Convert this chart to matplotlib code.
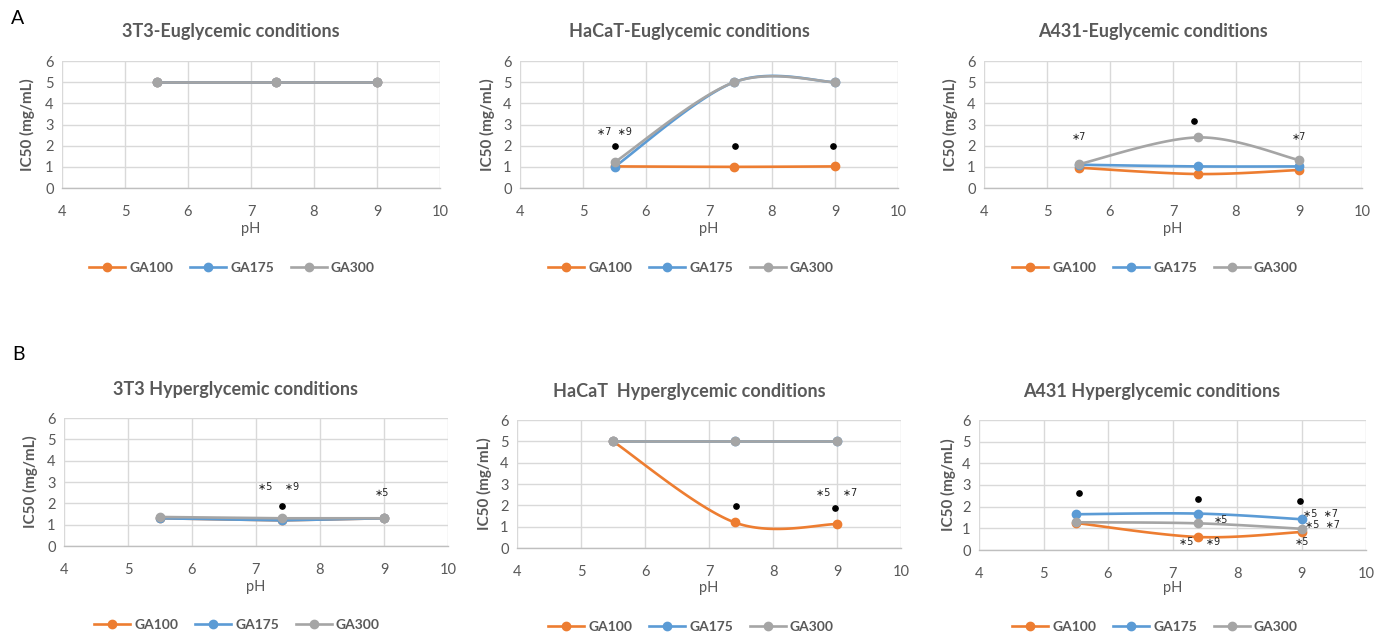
import numpy as np
import matplotlib
matplotlib.use("Agg")
import matplotlib.pyplot as plt
from matplotlib.lines import Line2D

plt.rcParams['font.family'] = ['Lato', 'DejaVu Sans']

W, H = 1386, 635
fig = plt.figure(figsize=(W / 100, H / 100), dpi=100)

ph = [5.5, 7.4, 9.0]
series_names = ["GA100", "GA175", "GA300"]
colors = ["#ED7D31", "#5B9BD5", "#A5A5A5"]

titles = ["3T3-Euglycemic conditions", "HaCaT-Euglycemic conditions", "A431-Euglycemic conditions",
          "3T3 Hyperglycemic conditions", "HaCaT  Hyperglycemic conditions", "A431 Hyperglycemic conditions"]

# IC50 values per panel: GA100, GA175, GA300
eu_3t3 = [[5, 5, 5], [5, 5, 5], [5, 5, 5]]
eu_hacat = [[1.02, 1.0, 1.02], [1.0, 5.0, 5.0], [1.21, 5.0, 5.0]]
eu_a431 = [[0.96, 0.66, 0.85], [1.1, 1.02, 1.02], [1.12, 2.39, 1.32]]
hy_3t3 = [[1.3, 1.2, 1.3], [1.3, 1.2, 1.3], [1.36, 1.3, 1.3]]
hy_hacat = [[5.0, 1.2, 1.12], [5.0, 5.0, 5.0], [5.0, 5.0, 5.0]]
hy_a431 = [[1.25, 0.6, 0.83], [1.65, 1.68, 1.42], [1.28, 1.23, 0.98]]
panel_data = [eu_3t3, eu_hacat, eu_a431, hy_3t3, hy_hacat, hy_a431]
smooth = [False, True, True, False, True, True]

# black significance dots (x, y) per panel
dots = [[], [(5.5, 2.0), (7.42, 2.0), (8.97, 2.0)], [(7.33, 3.16)],
        [(7.4, 1.89)], [(7.42, 1.98), (8.97, 1.89)], [(5.55, 2.65), (7.4, 2.37), (8.97, 2.28)]]
# annotation labels (x, y, text) per panel
notes = [[], [(5.5, 2.66, "∗7  ∗9")], [(5.5, 2.41, "∗7"), (9.0, 2.41, "∗7")],
         [(7.35, 2.75, "∗5    ∗9"), (8.96, 2.48, "∗5")],
         [(9.0, 2.58, "∗5    ∗7")],
         [(9.3, 1.67, "∗5  ∗7"), (9.33, 1.15, "∗5  ∗7"), (7.75, 1.37, "∗5"),
          (7.42, 0.36, "∗5    ∗9"), (9.0, 0.36, "∗5")]]

# pixel boxes: left, right, top, bottom
boxes = [(62, 440, 61, 188), (520, 898, 61, 188), (984, 1362, 61, 188),
         (64, 448, 418, 546), (517, 901, 420, 548), (979, 1366, 420, 550)]
title_pos = [(231, 32), (689, 32), (1153, 32), (235, 389), (689, 392), (1152, 392)]
legend_pos = [(232, 268), (691, 268), (1155, 268), (237, 625), (691, 627), (1155, 627)]
ylab_x = [27, 487, 950, 30, 484, 948]
xlab_y = [229, 229, 229, 587, 588, 588]

TXT = "#595959"


def excel_smooth(x, y, n=40):
    x = np.asarray(x, float)
    y = np.asarray(y, float)
    P = np.column_stack([x, y])
    k = len(P)
    out = [P[0]]
    for i in range(k - 1):
        p0 = P[max(i - 1, 0)]
        p1 = P[i]
        p2 = P[i + 1]
        p3 = P[min(i + 2, k - 1)]
        c1 = p1 + (p2 - p0) / 6.0
        c2 = p2 - (p3 - p1) / 6.0
        t = np.linspace(0, 1, n)[1:, None]
        b = ((1 - t) ** 3) * p1 + 3 * ((1 - t) ** 2) * t * c1 + 3 * (1 - t) * t ** 2 * c2 + t ** 3 * p2
        out.extend(b)
    out = np.array(out)
    return out[:, 0], out[:, 1]


for i in range(6):
    l, r, t, b = boxes[i]
    ax = fig.add_axes([l / W, 1 - b / H, (r - l) / W, (b - t) / H])
    ax.set_xlim(4, 10)
    ax.set_ylim(0, 6)
    ax.set_xticks(range(4, 11))
    ax.set_yticks(range(0, 7))
    ax.grid(True, color="#D9D9D9", linewidth=1.0)
    ax.set_axisbelow(True)
    for s in ["top", "right", "left"]:
        ax.spines[s].set_visible(False)
    ax.spines["bottom"].set_color("#BFBFBF")
    ax.spines["bottom"].set_linewidth(1.0)
    ax.tick_params(length=0, labelsize=10.5, labelcolor=TXT)
    ax.tick_params(axis="x", pad=12)
    ax.tick_params(axis="y", pad=6)
    for j, vals in enumerate(panel_data[i]):
        if smooth[i]:
            sx, sy = excel_smooth(ph, vals)
        else:
            sx, sy = ph, vals
        ax.plot(sx, sy, color=colors[j], lw=1.9, zorder=3 + j, solid_capstyle="round")
        ax.plot(ph, vals, 'o', color=colors[j], ms=6, zorder=3 + j, clip_on=False)
    for (dx, dy) in dots[i]:
        ax.plot(dx, dy, 'o', color="black", ms=3.8, zorder=10)
    for (nx, ny, s) in notes[i]:
        ax.text(nx, ny, s, fontsize=7, ha="center", va="center", color="#222222", zorder=11,
                family=["DejaVu Sans"])
    fig.text(ylab_x[i] / W, 1 - ((t + b) / 2) / H, "IC50 (mg/mL)", rotation=90, fontsize=11,
             fontweight="bold", color=TXT, ha="center", va="center")
    fig.text(((l + r) / 2) / W, 1 - xlab_y[i] / H, "pH", fontsize=10.5, color=TXT, ha="center", va="center")
    fig.text(title_pos[i][0] / W, 1 - title_pos[i][1] / H, titles[i], fontsize=13, fontweight="bold",
             color=TXT, ha="center", va="center")
    handles = [Line2D([0], [0], color=colors[j], lw=1.9, marker='o', ms=6) for j in range(3)]
    fig.legend(handles, series_names, loc="center", ncol=3, frameon=False,
               bbox_to_anchor=(legend_pos[i][0] / W, 1 - legend_pos[i][1] / H),
               prop={"weight": "bold", "size": 10}, labelcolor=TXT, handlelength=2.6,
               handletextpad=0.3, columnspacing=1.2)

fig.text(18 / W, 1 - 19 / H, "A", fontsize=14, ha="center", va="center", color="black")
fig.text(18 / W, 1 - 355 / H, "B", fontsize=14, ha="center", va="center", color="black")

fig.savefig("out.png", dpi=100, facecolor="white")
